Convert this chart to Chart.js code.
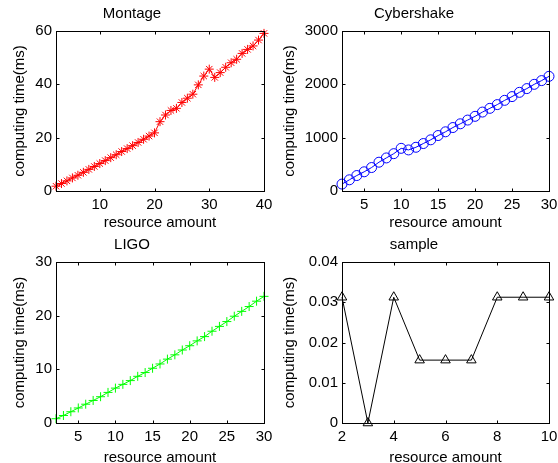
<!DOCTYPE html>
<html lang="en">
<head>
    <meta charset="UTF-8">
    <title>computing time vs resource amount</title>
    <script src="https://cdn.jsdelivr.net/npm/chart.js@4.4.1/dist/chart.umd.min.js"></script>
    <style>
        html, body { margin: 0; padding: 0; background: #fff; overflow: hidden; }
        #wrap { position: relative; width: 558px; height: 463px; overflow: hidden; }
        canvas { position: absolute; }
    </style>
</head>
<body>
<div id="wrap">
    <canvas id="montage"></canvas>
    <canvas id="cyber"></canvas>
    <canvas id="ligo"></canvas>
    <canvas id="sample"></canvas>
</div>
<script>
    // data
    var montageX = [2, 3, 4, 5, 6, 7, 8, 9, 10, 11, 12, 13, 14, 15, 16, 17, 18, 19, 20,
        21, 22, 23, 24, 25, 26, 27, 28, 29, 30, 31, 32, 33, 34, 35, 36, 37, 38, 39, 40];
    var montageY = [1.8, 2.8, 3.8, 4.9, 5.9, 7.0, 8.1, 9.2, 10.3, 11.4, 12.5, 13.6, 14.8, 15.9, 17.0, 18.2, 19.4, 20.6, 21.8,
        26.0, 28.5, 30.2, 31.0, 33.2, 34.8, 36.3, 39.8, 43.1, 45.7, 42.6, 44.4, 46.4, 48.1, 49.4, 51.6, 53.1, 54.4, 56.6, 59.1];

    var cyberX = [2, 3, 4, 5, 6, 7, 8, 9, 10, 11, 12, 13, 14, 15, 16, 17, 18, 19, 20,
        21, 22, 23, 24, 25, 26, 27, 28, 29, 30];
    var cyberY = [130, 210, 290, 360, 440, 540, 620, 700, 800, 770, 820, 890, 960, 1040, 1110, 1190, 1260, 1330, 1400,
        1480, 1550, 1620, 1700, 1770, 1850, 1920, 2000, 2070, 2150];

    var ligoX = [2, 3, 4, 5, 6, 7, 8, 9, 10, 11, 12, 13, 14, 15, 16, 17, 18, 19, 20,
        21, 22, 23, 24, 25, 26, 27, 28, 29, 30];
    var ligoY = [0.8, 1.4, 2.1, 2.8, 3.5, 4.2, 4.9, 5.7, 6.5, 7.2, 7.9, 8.7, 9.4, 10.2, 11.0, 11.9, 12.7, 13.6, 14.4,
        15.3, 16.1, 17.1, 18.0, 18.9, 19.9, 20.8, 21.7, 22.7, 23.6];

    var sampleX = [2, 3, 4, 5, 6, 7, 8, 9, 10];
    var sampleY = [0.03125, 0, 0.03125, 0.015625, 0.015625, 0.015625, 0.03125, 0.03125, 0.03125];

    var montageXTicks = [10, 20, 30, 40];
    var montageYTicks = [0, 20, 40, 60];
    var cyberXTicks = [5, 10, 15, 20, 25, 30];
    var cyberYTicks = [0, 1000, 2000, 3000];
    var ligoXTicks = [5, 10, 15, 20, 25, 30];
    var ligoYTicks = [0, 10, 20, 30];
    var sampleXTicks = [2, 4, 6, 8, 10];
    var sampleYTicks = [0, 0.01, 0.02, 0.03, 0.04];
    var sampleYTickLabels = ['0', '0.01', '0.02', '0.03', '0.04'];

    var xTitle = 'resource amount';
    var yTitle = 'computing time(ms)';
    var FONT = '"Liberation Sans", Arial, Helvetica, sans-serif';

    // matlab style box with inward ticks on all sides
    var boxPlugin = {
        id: 'matlabBox',
        afterDraw: function (chart) {
            var a = chart.chartArea, c = chart.ctx;
            var L = Math.round(a.left) + 0.5, R = Math.round(a.right) + 0.5;
            var T = Math.round(a.top) + 0.5, B = Math.round(a.bottom) + 0.5;
            c.save();
            c.strokeStyle = '#000';
            c.lineWidth = 1;
            c.strokeRect(L, T, R - L, B - T);
            c.beginPath();
            chart.scales.x.ticks.forEach(function (t) {
                var px = Math.round(chart.scales.x.getPixelForValue(t.value)) + 0.5;
                c.moveTo(px, B); c.lineTo(px, B - 3);
                c.moveTo(px, T); c.lineTo(px, T + 3);
            });
            chart.scales.y.ticks.forEach(function (t) {
                var py = Math.round(chart.scales.y.getPixelForValue(t.value)) + 0.5;
                c.moveTo(L, py); c.lineTo(L + 3, py);
                c.moveTo(R, py); c.lineTo(R - 3, py);
            });
            c.stroke();
            c.restore();
        }
    };

    function makePanel(id, box, area, p) {
        var cv = document.getElementById(id);
        cv.style.left = box[0] + 'px';
        cv.style.top = box[1] + 'px';
        cv.width = box[2];
        cv.height = box[3];
        var xH = 39;
        var pts = p.x.map(function (v, i) { return {x: v, y: p.y[i]}; });
        return new Chart(cv, {
            type: 'line',
            data: {
                datasets: [{
                    data: pts,
                    borderColor: p.color,
                    backgroundColor: 'rgba(0,0,0,0)',
                    borderWidth: 1,
                    pointStyle: p.marker,
                    pointRadius: p.radius,
                    pointBorderWidth: 1,
                    pointBorderColor: p.color,
                    pointBackgroundColor: 'rgba(0,0,0,0)',
                    tension: 0,
                    clip: false
                }]
            },
            plugins: [boxPlugin],
            options: {
                responsive: false,
                animation: false,
                events: [],
                layout: {
                    padding: {
                        left: 0, top: 0,
                        right: box[0] + box[2] - area[2],
                        bottom: box[1] + box[3] - area[3] - xH
                    }
                },
                plugins: {
                    legend: {display: false},
                    tooltip: {enabled: false},
                    title: {
                        display: true,
                        text: p.title,
                        color: '#000',
                        font: {family: FONT, size: 15, weight: 'normal', lineHeight: 1.2},
                        padding: {top: 5, bottom: area[1] - box[1] - 18 - 5}
                    }
                },
                scales: {
                    x: {
                        type: 'linear',
                        min: p.x[0], max: p.x[p.x.length - 1],
                        grid: {display: false, drawTicks: false},
                        border: {display: false},
                        afterBuildTicks: function (s) { s.ticks = p.xTicks.map(function (v) { return {value: v}; }); },
                        afterFit: function (s) { s.height = xH; s.paddingLeft = 0; s.paddingRight = 0; },
                        ticks: {
                            color: '#000', padding: 5, maxRotation: 0, autoSkip: false,
                            font: {family: FONT, size: 15},
                            callback: function (v) { return String(v); }
                        },
                        title: {
                            display: true, text: xTitle, color: '#000',
                            font: {family: FONT, size: 15},
                            padding: {top: 0, bottom: p.xTitlePad}
                        }
                    },
                    y: {
                        type: 'linear',
                        min: p.yTicks[0], max: p.yTicks[p.yTicks.length - 1],
                        grid: {display: false, drawTicks: false},
                        border: {display: false},
                        afterBuildTicks: function (s) { s.ticks = p.yTicks.map(function (v) { return {value: v}; }); },
                        afterFit: function (s) { s.width = area[0] - box[0]; s.paddingTop = 0; s.paddingBottom = 0; },
                        ticks: {
                            color: '#000', padding: 4, autoSkip: false,
                            font: {family: FONT, size: 15},
                            callback: function (v, i) { return p.yLabels ? p.yLabels[i] : String(v); }
                        },
                        title: {
                            display: true, text: yTitle, color: '#000',
                            font: {family: FONT, size: 15},
                            padding: {top: p.yTitleX - box[0] - 9, bottom: 0}
                        }
                    }
                }
            }
        });
    }

    makePanel('montage', [0, 0, 279, 231], [56, 31, 264, 191], {
        title: 'Montage', x: montageX, y: montageY, xTicks: montageXTicks, yTicks: montageYTicks,
        color: '#ff0000', marker: 'star', radius: 4.5, yTitleX: 20, xTitlePad: -2
    });
    makePanel('cyber', [279, 0, 279, 231], [342, 31, 549, 191], {
        title: 'Cybershake', x: cyberX, y: cyberY, xTicks: cyberXTicks, yTicks: cyberYTicks,
        color: '#0000ff', marker: 'circle', radius: 5, yTitleX: 290, xTitlePad: -2
    });
    makePanel('ligo', [0, 231, 279, 240], [56, 262, 264, 423], {
        title: 'LIGO', x: ligoX, y: ligoY, xTicks: ligoXTicks, yTicks: ligoYTicks,
        color: '#00ff00', marker: 'cross', radius: 4.5, yTitleX: 20, xTitlePad: -5
    });
    makePanel('sample', [279, 231, 279, 240], [342, 262, 549, 423], {
        title: 'sample', x: sampleX, y: sampleY, xTicks: sampleXTicks, yTicks: sampleYTicks,
        yLabels: sampleYTickLabels,
        color: '#000000', marker: 'triangle', radius: 5.5, yTitleX: 290, xTitlePad: -5
    });
</script>
</body>
</html>
